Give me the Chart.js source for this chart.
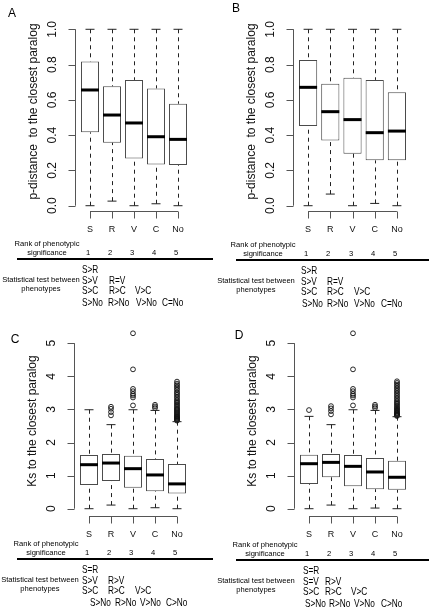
<!DOCTYPE html>
<html><head><meta charset="utf-8">
<script src="https://cdn.jsdelivr.net/npm/chart.js@4/dist/chart.umd.min.js"></script>
<style>
body{margin:0;width:429px;height:612px;background:#fff;position:relative;overflow:hidden;font-family:"Liberation Sans",Arial,sans-serif;}
canvas{position:absolute}
.t{position:absolute;white-space:nowrap;color:#000;line-height:1}
.c{transform:translate(-50%,-50%)}
.l{transform:translateY(-50%) scaleX(0.72);transform-origin:0 50%}
.small{font-size:7.6px}
.stat{font-family:"Liberation Sans",Arial,sans-serif;font-size:11.5px}
.letter{font-size:12px}
.rule{position:absolute;height:2px;background:#000}
</style></head><body>
<canvas id="cA" width="214" height="240" style="left:0;top:0"></canvas>
<canvas id="cB" width="215" height="240" style="left:214px;top:0"></canvas>
<canvas id="cC" width="214" height="232" style="left:0;top:310px"></canvas>
<canvas id="cD" width="215" height="232" style="left:214px;top:310px"></canvas>
<script>
// ---------- data ----------
const categories = ['S', 'R', 'V', 'C', 'No'];
const rankLabels = ['1', '2', '3', '4', '5'];
const pTicks = [0, 0.2, 0.4, 0.6, 0.8, 1.0];
const pTickLabels = ['0.0', '0.2', '0.4', '0.6', '0.8', '1.0'];
const ksTicks = [0, 1, 2, 3, 4, 5];
const ksTickLabels = ['0', '1', '2', '3', '4', '5'];
const pTitle = 'p-distance  to the closest paralog';
const ksTitle = 'Ks to the closest paralog';
const rankTitle = ['Rank of phenotypic', 'significance'];
const statTitle = ['Statistical test between', 'phenotypes'];

// Panel A
const aLow = [0, 0.026, 0, 0.011, 0];
const aQ1  = [0.416, 0.357, 0.268, 0.234, 0.231];
const aMed = [0.656, 0.514, 0.469, 0.391, 0.376];
const aQ3  = [0.817, 0.677, 0.713, 0.665, 0.578];
const aHigh = [1, 1, 1, 1, 1];
const aOut = [[], [], [], [], []];
// Panel B
const bLow = [0, 0.066, 0, 0.013, 0];
const bQ1  = [0.452, 0.369, 0.295, 0.257, 0.257];
const bMed = [0.671, 0.533, 0.488, 0.414, 0.423];
const bQ3  = [0.826, 0.692, 0.726, 0.713, 0.643];
const bHigh = [1, 1, 1, 1, 1];
const bOut = [[], [], [], [], []];
// Panel C
const cLow = [0, 0.11, 0, 0.03, 0];
const cQ1  = [0.72, 0.84, 0.63, 0.53, 0.46];
const cMed = [1.33, 1.38, 1.21, 1.02, 0.75];
const cQ3  = [1.62, 1.65, 1.60, 1.50, 1.35];
const cHigh = [2.99, 2.54, 2.99, 2.97, 2.63];
const cOut = [
  [],
  [2.82, 2.92, 3.02, 3.08],
  [3.12, 3.36, 3.42, 3.47, 3.55, 3.62, 4.21, 5.30],
  [3.04, 3.09, 3.14],
  [2.66, 2.68, 2.70, 2.72, 2.74, 2.76, 2.78, 2.80, 2.83, 2.86, 2.89, 2.92, 2.95, 2.98, 3.01, 3.04, 3.08, 3.12, 3.16, 3.20, 3.24, 3.28, 3.33, 3.38, 3.43, 3.48, 3.52, 3.58, 3.63, 3.68, 3.73, 3.78, 3.84]
];
// Panel D
const dLow = [0, 0.11, 0, 0.02, 0];
const dQ1  = [0.75, 0.95, 0.68, 0.59, 0.57];
const dMed = [1.36, 1.40, 1.28, 1.11, 0.95];
const dQ3  = [1.63, 1.65, 1.62, 1.53, 1.45];
const dHigh = [2.79, 2.54, 2.99, 2.97, 2.78];
const dOut = [
  [2.98],
  [2.85, 2.95, 3.03, 3.10],
  [3.12, 3.36, 3.42, 3.47, 3.55, 3.62, 4.21, 5.30],
  [3.04, 3.09, 3.14],
  [2.80, 2.82, 2.84, 2.86, 2.88, 2.90, 2.93, 2.96, 2.99, 3.02, 3.05, 3.09, 3.13, 3.17, 3.21, 3.25, 3.30, 3.35, 3.40, 3.45, 3.50, 3.55, 3.60, 3.65, 3.70, 3.75, 3.80, 3.85]
];

const statsA = [['S>R'], ['S>V', 'R=V'], ['S>C', 'R>C', 'V>C'], ['S>No', 'R>No', 'V>No', 'C=No']];
const statsB = [['S>R'], ['S>V', 'R=V'], ['S>C', 'R>C', 'V>C'], ['S>No', 'R>No', 'V>No', 'C=No']];
const statsC = [['S=R'], ['S>V', 'R>V'], ['S>C', 'R>C', 'V>C'], ['S>No', 'R>No', 'V>No', 'C>No']];
const statsD = [['S=R'], ['S=V', 'R>V'], ['S>C', 'R>C', 'V>C'], ['S>No', 'R>No', 'V>No', 'C>No']];

// ---------- drawing ----------
const FONT = '"Liberation Sans", Arial, sans-serif';

const whiskerPlugin = {
  id: 'whiskers',
  beforeDatasetsDraw(chart, args, opts) {
    const {ctx, scales: {x, y}} = chart;
    ctx.save();
    ctx.strokeStyle = '#222';
    ctx.lineWidth = 1;
    ctx.setLineDash([4, 4]);
    opts.low.forEach((lo, i) => {
      const px = Math.round(x.getPixelForValue(i)) + 0.5;
      ctx.beginPath();
      ctx.moveTo(px, y.getPixelForValue(opts.high[i]));
      ctx.lineTo(px, y.getPixelForValue(opts.q3[i]));
      ctx.moveTo(px, y.getPixelForValue(lo));
      ctx.lineTo(px, y.getPixelForValue(opts.q1[i]));
      ctx.stroke();
    });
    ctx.restore();
  }
};

const axesPlugin = {
  id: 'rAxes',
  afterDraw(chart, args, opts) {
    const {ctx, chartArea, scales: {x, y}} = chart;
    const n = categories.length;
    const p0 = x.getPixelForValue(0), pn = x.getPixelForValue(n - 1);
    const step = x.getPixelForValue(1) - p0;
    const ax = Math.round(p0 - 0.7 * step) + 0.5;
    ctx.save();
    ctx.strokeStyle = '#555';
    ctx.lineWidth = 1;
    ctx.fillStyle = '#111';
    // y axis
    const t = opts.ticks;
    ctx.beginPath();
    ctx.moveTo(ax, y.getPixelForValue(t[0]));
    ctx.lineTo(ax, y.getPixelForValue(t[t.length - 1]));
    t.forEach(v => {
      const py = Math.round(y.getPixelForValue(v)) + 0.5;
      ctx.moveTo(ax, py); ctx.lineTo(ax - 7, py);
    });
    ctx.stroke();
    ctx.font = '12px ' + FONT;
    ctx.textAlign = 'center';
    ctx.textBaseline = 'middle';
    t.forEach((v, i) => {
      ctx.save();
      ctx.translate(ax - 23, y.getPixelForValue(v));
      ctx.rotate(-Math.PI / 2);
      ctx.fillText(opts.labels[i], 0, 0);
      ctx.restore();
    });
    // y title
    ctx.save();
    ctx.font = '12px ' + FONT;
    ctx.translate(ax - 42, (chartArea.top + chartArea.bottom) / 2 + opts.titleShift);
    ctx.rotate(-Math.PI / 2);
    ctx.fillText(opts.title, 0, 0);
    ctx.restore();
    // x axis
    const xb = Math.round(chartArea.bottom) + 0.5;
    ctx.beginPath();
    ctx.moveTo(p0, xb); ctx.lineTo(pn, xb);
    categories.forEach((c, i) => {
      const px = Math.round(x.getPixelForValue(i)) + 0.5;
      ctx.moveTo(px, xb); ctx.lineTo(px, xb + 7);
    });
    ctx.stroke();
    ctx.font = '9px ' + FONT;
    categories.forEach((c, i) => {
      ctx.fillText(c, x.getPixelForValue(i), xb + 18);
    });
    ctx.restore();
  }
};

function boxChart(id, pad, yMin, yMax, d) {
  const boxes = categories.map((c, i) => [d.q1[i], d.q3[i]]);
  const meds = categories.map((c, i) => ({x: c, y: d.med[i]}));
  const caps = [];
  categories.forEach((c, i) => { caps.push({x: c, y: d.low[i]}); caps.push({x: c, y: d.high[i]}); });
  const outs = [];
  categories.forEach((c, i) => d.out[i].forEach(v => outs.push({x: c, y: v})));
  return new Chart(document.getElementById(id), {
    type: 'bar',
    data: {
      labels: categories,
      datasets: [
        {type: 'bar', data: boxes, backgroundColor: '#fff', borderColor: '#4a4a4a', borderWidth: 1,
         borderSkipped: false, barPercentage: 0.82, categoryPercentage: 1, order: 3},
        {type: 'line', data: caps, showLine: false, pointStyle: 'line', pointRadius: 4.5,
         pointBorderWidth: 1, borderColor: '#222', order: 2},
        {type: 'line', data: outs, showLine: false, pointStyle: 'circle', pointRadius: 2.4,
         pointBorderWidth: 0.9, borderColor: '#111', backgroundColor: 'rgba(0,0,0,0)', order: 2},
        {type: 'line', data: meds, showLine: false, pointStyle: 'line', pointRadius: 9,
         pointBorderWidth: 3, borderColor: '#000', order: 1}
      ]
    },
    options: {
      responsive: false, animation: false, events: [],
      layout: {padding: pad},
      plugins: {
        legend: {display: false}, tooltip: {enabled: false},
        whiskers: {low: d.low, high: d.high, q1: d.q1, q3: d.q3},
        rAxes: {ticks: d.ticks, labels: d.tickLabels, title: d.title, titleShift: d.titleShift}
      },
      scales: {
        x: {display: false, offset: true},
        y: {display: false, min: yMin, max: yMax}
      }
    },
    plugins: [whiskerPlugin, axesPlugin]
  });
}

boxChart('cA', {left: 79, right: 25, top: 24, bottom: 29}, -0.03, 1.03,
  {low: aLow, q1: aQ1, med: aMed, q3: aQ3, high: aHigh, out: aOut, ticks: pTicks, tickLabels: pTickLabels, title: pTitle, titleShift: -6});
boxChart('cB', {left: 83, right: 21, top: 24, bottom: 29}, -0.03, 1.03,
  {low: bLow, q1: bQ1, med: bMed, q3: bQ3, high: bHigh, out: bOut, ticks: pTicks, tickLabels: pTickLabels, title: pTitle, titleShift: -6});
boxChart('cC', {left: 78, right: 26, top: 16, bottom: 26}, -0.22, 5.52,
  {low: cLow, q1: cQ1, med: cMed, q3: cQ3, high: cHigh, out: cOut, ticks: ksTicks, tickLabels: ksTickLabels, title: ksTitle, titleShift: 0});
boxChart('cD', {left: 84, right: 21, top: 16, bottom: 26}, -0.22, 5.52,
  {low: dLow, q1: dQ1, med: dMed, q3: dQ3, high: dHigh, out: dOut, ticks: ksTicks, tickLabels: ksTickLabels, title: ksTitle, titleShift: 0});

// ---------- text tables ----------
function txt(cls, s, x, y) {
  const e = document.createElement('div');
  e.className = 't ' + cls;
  e.textContent = s;
  e.style.left = x + 'px';
  e.style.top = y + 'px';
  document.body.appendChild(e);
}
function rule(x1, x2, y) {
  const e = document.createElement('div');
  e.className = 'rule';
  e.style.left = x1 + 'px'; e.style.width = (x2 - x1) + 'px'; e.style.top = y + 'px';
  document.body.appendChild(e);
}
function table(L) {
  txt('c small', rankTitle[0], L.rankX, L.top + 0);
  txt('c small', rankTitle[1], L.rankX, L.top + 9);
  rankLabels.forEach((r, i) => txt('c small', r, L.cats[i] - 2, L.top + 9));
  rule(L.ruleX1, L.ruleX2, L.top + 14);
  txt('c small', statTitle[0], L.statX, L.top + 36);
  txt('c small', statTitle[1], L.statX, L.top + 45);
  const rowY = [26, 36.5, 47, 58.5];
  L.stats.forEach((row, r) => {
    row.forEach((s, k) => {
      const xs = r === 3 ? L.cols4 : L.cols;
      txt('l stat', s, xs[k], L.top + rowY[r]);
    });
  });
}
table({top: 244, rankX: 47, statX: 41, ruleX1: 17, ruleX2: 213, cats: [90, 112, 134, 156, 178],
       cols: [82, 109, 135], cols4: [82, 108, 136, 162], stats: statsA});
table({top: 245, rankX: 263, statX: 256, ruleX1: 236, ruleX2: 429, cats: [308, 330, 353, 375, 397],
       cols: [301, 327, 354], cols4: [302, 327, 354, 381], stats: statsB});
table({top: 544, rankX: 46, statX: 40, ruleX1: 17, ruleX2: 213, cats: [89, 111, 133, 155, 177],
       cols: [82, 108, 135], cols4: [90, 115, 140, 166], stats: statsC});
table({top: 545, rankX: 265, statX: 256, ruleX1: 236, ruleX2: 429, cats: [309, 331, 353, 375, 397],
       cols: [303, 325, 351], cols4: [305, 329, 354, 381], stats: statsD});

txt('c letter', 'A', 12, 13);
txt('c letter', 'B', 236, 8);
txt('c letter', 'C', 15, 339);
txt('c letter', 'D', 239, 335);
</script>
</body></html>
